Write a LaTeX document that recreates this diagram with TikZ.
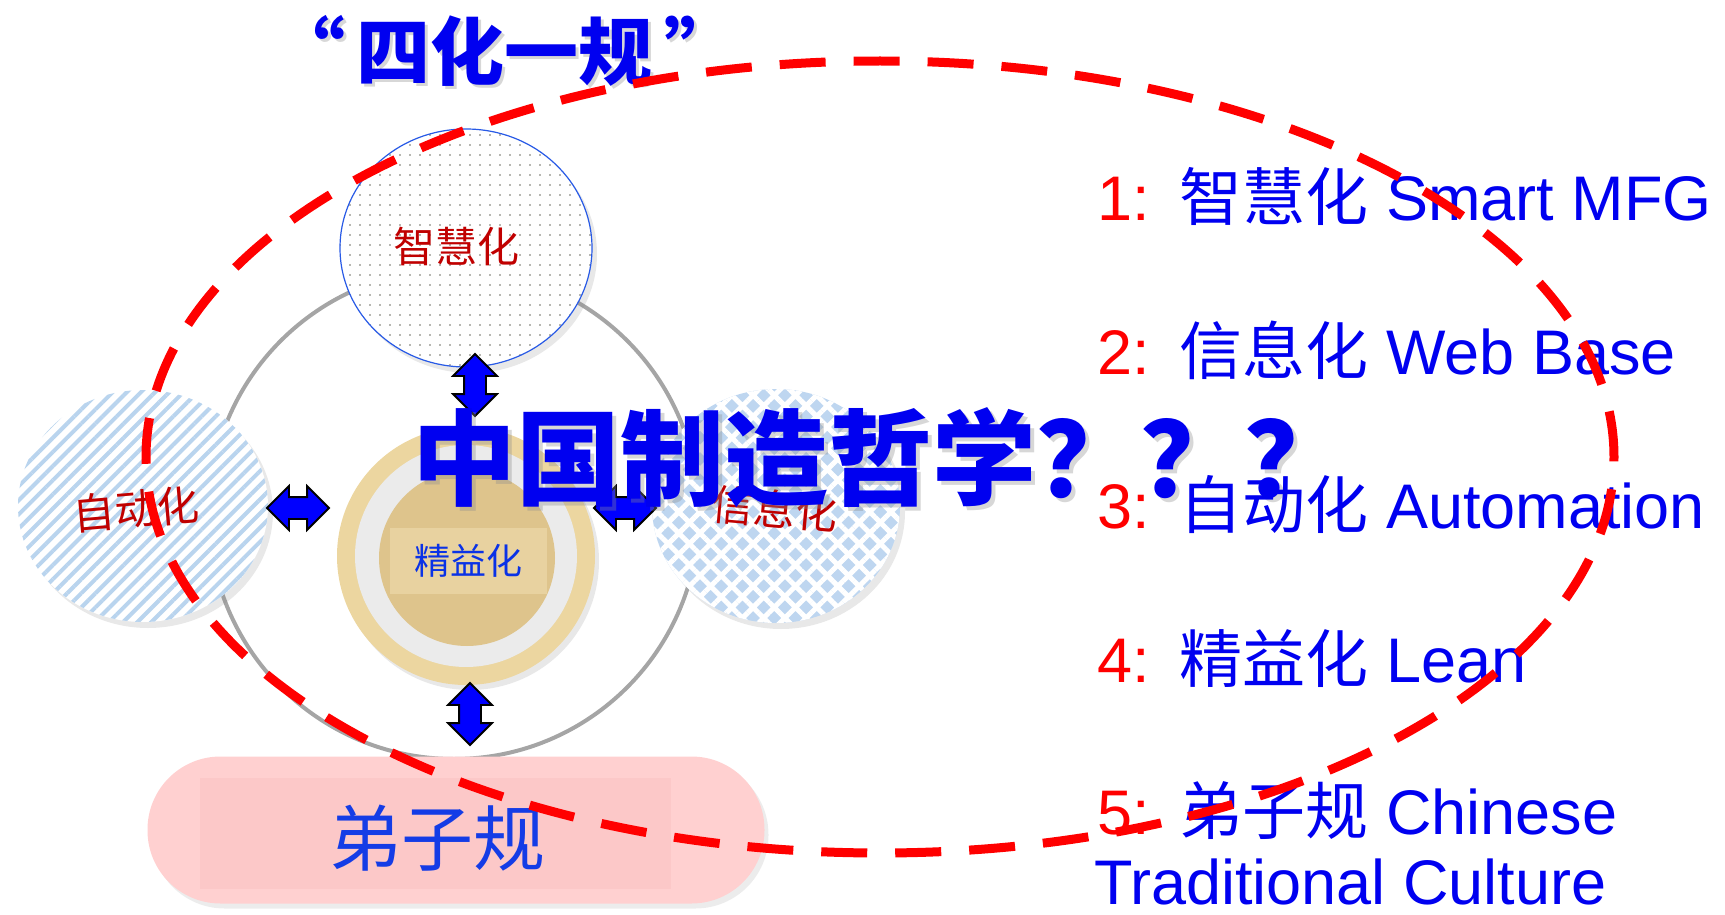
\documentclass[tikz,border=0pt]{standalone}
\usepackage{fontspec}
\setmainfont{Liberation Sans}
\newfontfamily\cjk{Noto Sans CJK SC}
\usetikzlibrary{shapes.geometric,shapes.arrows,patterns.meta,shadows}
\definecolor{tblue}{RGB}{0,0,240}
\definecolor{leanblue}{RGB}{10,50,230}
\definecolor{dzblue}{RGB}{20,60,230}
\definecolor{dred}{RGB}{192,0,0}
\definecolor{ringgray}{RGB}{165,165,165}
\definecolor{stripeblue}{RGB}{185,212,238}
\definecolor{diablue}{RGB}{190,214,240}
\definecolor{woodout}{RGB}{236,214,160}
\definecolor{woodin}{RGB}{222,196,140}
\definecolor{woodlab}{RGB}{232,210,160}
\definecolor{pillpink}{RGB}{255,208,208}
\definecolor{pillin}{RGB}{252,200,200}
\definecolor{ellred}{RGB}{255,0,0}
\definecolor{dotgray}{RGB}{110,110,100}
\definecolor{edgeblue}{RGB}{40,90,230}
\newcommand{\lnum}[1]{\textcolor{red}{#1}\hspace{30pt}}
\begin{document}
\begin{tikzpicture}[x=1pt,y=-1pt,
  sat/.style={ellipse, inner sep=0, drop shadow={opacity=0.18, shadow xshift=5pt, shadow yshift=-6pt}},
  lab/.style={inner sep=0, text=dred, font=\cjk\fontsize{42}{46}\selectfont},
  dbl/.style={double arrow, draw=black, line width=1.8pt, fill=blue, minimum height=62pt, double arrow head extend=11pt, inner xsep=0pt, inner ysep=10pt},
  listtxt/.style={anchor=base west, inner sep=0, text=tblue, font=\fontsize{63}{70}\selectfont},
  bigtxt/.style={inner sep=0, font=\cjk\bfseries\fontsize{104}{110}\selectfont},
  titletxt/.style={inner sep=0, font=\cjk\bfseries\fontsize{74}{80}\selectfont},
]
\useasboundingbox (0,0) rectangle (1725,915);

% big grey ring
\node[circle, draw=ringgray, line width=4pt, minimum size=490pt, inner sep=0] (ring) at (454,514) {};

% satellites
\node[sat, minimum width=252pt, minimum height=238pt, draw=edgeblue, line width=1.2pt,
      preaction={fill=white}, pattern={Dots[distance=10pt, radius=0.9pt]}, pattern color=dotgray] (smart) at (466,248) {};
\node[lab] (smartlab) at (456,246) {智慧化};

\node[sat, minimum width=250pt, minimum height=232pt, preaction={fill=white},
      pattern={Lines[angle=45, distance=10pt, line width=4pt]}, pattern color=stripeblue] (auto) at (143,506) {};
\node[lab, rotate=5] (autolab) at (136,509) {自动化};

\node[sat, minimum width=248pt, minimum height=234pt, fill=diablue,
      postaction={pattern={Hatch[angle=45, distance=15pt, line width=5pt]}, pattern color=white}] (info) at (776,506) {};
\node[lab, rotate=-5] (infolab) at (775,509) {信息化};

% centre
\node[circle, minimum size=258pt, inner sep=0, fill=woodout, drop shadow={opacity=0.18, shadow xshift=4pt, shadow yshift=-5pt}] (lean) at (466,556) {};
\node[circle, minimum size=222pt, inner sep=0, fill=gray!16] (leanring) at (466,556) {};
\node[circle, minimum size=176pt, inner sep=0, fill=woodin] (leancore) at (467,558) {};
\node[rectangle, minimum width=157pt, minimum height=66pt, fill=woodlab, inner sep=0] (leanbox) at (468,561) {};
\node[inner sep=0, text=leanblue, font=\cjk\fontsize{36}{40}\selectfont] (leanlab) at (leanbox) {精益化};

% pill
\node[rectangle, rounded corners=73pt, minimum width=617pt, minimum height=147pt, fill=pillpink, inner sep=0,
      drop shadow={opacity=0.15, shadow xshift=4pt, shadow yshift=-5pt}] (pill) at (456,830) {};
\node[rectangle, minimum width=471pt, minimum height=111pt, fill=pillin, inner sep=0] (pillbox) at (435,833) {};
\node[inner sep=0, text=dzblue, font=\cjk\fontsize{72}{80}\selectfont] (dzg) at (437,838) {弟子规};

% block arrows
\node[dbl, rotate=90] (a1) at (475,385) {};
\node[dbl, rotate=90] (a2) at (470,714) {};
\node[dbl] (a3) at (298,508) {};
\node[dbl] (a4) at (625,508) {};

% big text
\node[bigtxt, text=black!45, opacity=.35] (philsh) at (884,462) {中国制造哲学？？？};
\node[bigtxt, text=tblue] (phil) at (880,458) {中国制造哲学？？？};

% title
\node[titletxt, text=black!45, opacity=.35] (titlesh) at (508,54) {“\hspace{12pt}四化一规\hspace{12pt}”};
\node[titletxt, text=tblue] (title) at (505,51) {“\hspace{12pt}四化一规\hspace{12pt}”};

% list
\node[listtxt] (l1) at (1097,220) {\lnum{1:}{\cjk 智慧化} Smart MFG};
\node[listtxt] (l2) at (1097,374) {\lnum{2:}{\cjk 信息化} Web Base};
\node[listtxt] (l3) at (1097,528) {\lnum{3:}{\cjk 自动化} Automation};
\node[listtxt] (l4) at (1097,682) {\lnum{4:}{\cjk 精益化} Lean};
\node[listtxt] (l5) at (1097,834) {\lnum{5:}{\cjk 弟子规} Chinese};
\node[listtxt] (l6) at (1094,904) {Traditional Culture};

% red dashed loop
\node[ellipse, draw=ellred, line width=9pt, dash pattern=on 46pt off 28pt, minimum width=1468pt, minimum height=792pt, inner sep=0] (loop) at (880,457) {};
\end{tikzpicture}
\end{document}
